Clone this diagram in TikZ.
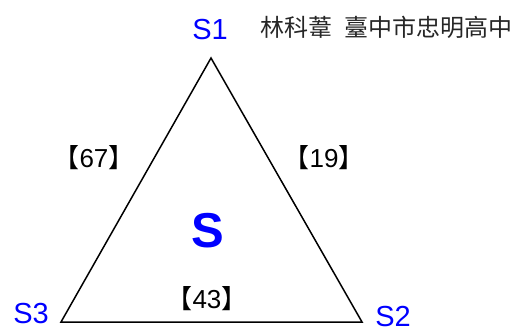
\documentclass[tikz,border=0pt]{standalone}
\usepackage{fontspec}
\setmainfont{Liberation Sans}
\newfontfamily\cjk{Noto Sans CJK TC}
\begin{document}
\begin{tikzpicture}[x=0.5pt,y=-0.5pt,
  vlabel/.style={text=blue,font=\fontsize{14.5}{16}\selectfont,inner sep=0pt},
  elabel/.style={font=\fontsize{13}{15}\selectfont,inner sep=0pt},
  edge/.style={line width=0.75pt,line join=miter}]
\useasboundingbox (0,0) rectangle (518,329);
\coordinate (A) at (211,58);
\coordinate (B) at (362,322);
\coordinate (C) at (61,322);
\draw[edge] (A) -- (B) -- (C) -- cycle;
\node[vlabel] (s1) at (210,30) {S1};
\node[vlabel] (s2) at (393,316) {S2};
\node[vlabel] (s3) at (31,314) {S3};
\node[inner sep=0pt,text=black!85,font=\cjk\fontsize{12}{14}\selectfont] (auth) at (386.5,27) {林科葦\hspace{0.5em}臺中市忠明高中};
\node[elabel] (e67) at (94,158) {{\cjk 【}67{\cjk 】}};
\node[elabel] (e19) at (324,158) {{\cjk 【}19{\cjk 】}};
\node[elabel] (e43) at (207,299) {{\cjk 【}43{\cjk 】}};
\node[text=blue,font=\bfseries\fontsize{24.5}{28}\selectfont,inner sep=0pt] (S) at (208,231) {S};
\end{tikzpicture}
\end{document}
